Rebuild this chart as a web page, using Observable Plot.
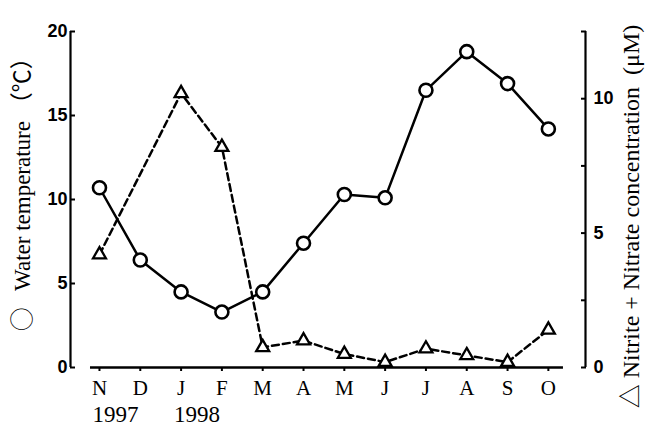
<!DOCTYPE html>
<html><head><meta charset="utf-8">
<script src="https://cdn.jsdelivr.net/npm/d3@7"></script>
<script src="https://cdn.jsdelivr.net/npm/@observablehq/plot@0.6"></script>
<style>body{margin:0;background:#fff}</style>
</head><body><div id="chart"></div>
<script>
const months = ["N","D","J","F","M","A","M","J","J","A","S","O"];
const yearLabels = ["1997","1998"];
const yearIndex = [0, 2];
const temperature = [10.7, 6.4, 4.5, 3.3, 4.5, 7.4, 10.3, 10.1, 16.5, 18.8, 16.9, 14.2];
const nitrate = [4.2, null, 10.2, 8.2, 0.75, 1.0, 0.5, 0.2, 0.7, 0.45, 0.2, 1.4];
const tempTicks = [0, 5, 10, 15, 20];
const nitrateTicks = [0, 2.5, 5, 7.5, 10, 12.5];
const nitrateLabelled = [0, 5, 10];
const leftTitle = "◯\u00a0\u00a0 Water temperature （℃）";
const rightTitle = "△ Nitrite + Nitrate concentration  (μM)";

const k = 20 / 12.5; // nitrate -> temperature units
const xDomain = [-0.71, 11.91];
const xAxisExtent = [-0.22, 11.37];
const serif = "'Liberation Serif','Times New Roman','Noto Sans CJK JP',serif";
const sans = "'Liberation Sans',Arial,sans-serif";

const tData = months.map((m, i) => ({i, t: temperature[i]}));
const nData = months.map((m, i) => ({i, n: nitrate[i]})).filter(d => d.n != null);

const chart = Plot.plot({
  width: 647, height: 438,
  marginLeft: 70, marginRight: 62, marginTop: 31, marginBottom: 71,
  x: {type: "linear", domain: xDomain},
  y: {domain: [0, 20]},
  style: {background: "white", color: "black"},
  marks: [
    Plot.ruleX([xDomain[0]], {y1: 0, y2: 20, strokeWidth: 2.2}),
    Plot.ruleX([xDomain[1]], {y1: 0, y2: 20, strokeWidth: 2.2}),
    Plot.ruleY([0], {x1: xAxisExtent[0], x2: xAxisExtent[1], strokeWidth: 2.4}),
    Plot.axisY({anchor: "left", ticks: tempTicks, tickSize: -5, tickPadding: 8, strokeWidth: 2,
      fontSize: 18, fontWeight: "bold", fontFamily: sans, label: null}),
    Plot.axisY({anchor: "right", ticks: nitrateTicks.map(v => v * k), tickSize: -5, tickPadding: 13, strokeWidth: 2,
      tickFormat: v => nitrateLabelled.includes(Math.round(v / k * 10) / 10) ? String(Math.round(v / k)) : "",
      fontSize: 18, fontWeight: "bold", fontFamily: sans, label: null}),
    Plot.axisX({ticks: months.map((_, i) => i), tickFormat: i => months[i], tickSize: 4, tickPadding: 9,
      fontSize: 21, fontFamily: serif, label: null, strokeWidth: 2}),
    Plot.text(yearIndex, {x: d => d, text: (d, i) => yearLabels[i], frameAnchor: "bottom",
      dy: 54, dx: -7, textAnchor: "start", fontSize: 23, fontFamily: serif}),
    Plot.line(nData, {x: "i", y: d => d.n * k, strokeWidth: 2.5, strokeDasharray: "7,4"}),
    Plot.dot(nData, {x: "i", y: d => d.n * k, symbol: "triangle", r: 4.8, fill: "white", stroke: "black", strokeWidth: 2.3}),
    Plot.line(tData, {x: "i", y: "t", strokeWidth: 2.5}),
    Plot.dot(tData, {x: "i", y: "t", r: 6.5, fill: "white", stroke: "black", strokeWidth: 2.6}),
    Plot.text([leftTitle], {frameAnchor: "left", rotate: -90, dx: -48, dy: -11, textAnchor: "middle",
      lineAnchor: "middle", fontSize: 23, fontFamily: serif}),
    Plot.text([rightTitle], {frameAnchor: "right", rotate: -90, dx: 46, dy: 17, textAnchor: "middle",
      lineAnchor: "middle", fontSize: 24, fontFamily: serif})
  ]
});
document.getElementById("chart").appendChild(chart);
</script>
</body></html>
